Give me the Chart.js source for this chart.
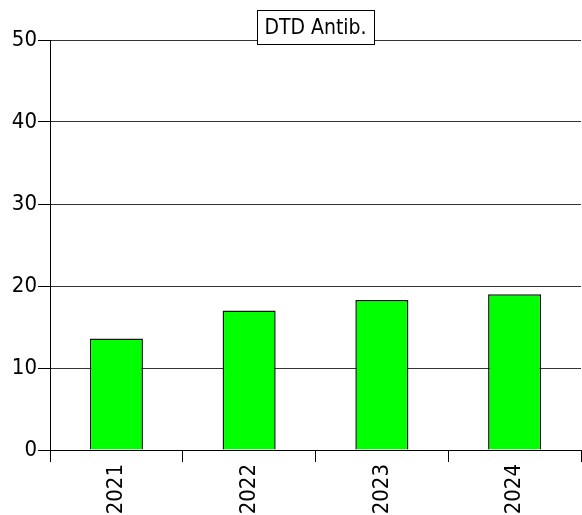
<!DOCTYPE html>
<html>
<head>
<meta charset="utf-8">
<script src="https://cdn.jsdelivr.net/npm/chart.js@4/dist/chart.umd.min.js"></script>
<style>
  html, body { margin: 0; padding: 0; background: #fff; }
  #wrap { width: 582px; height: 515px; }
</style>
</head>
<body>
<div id="wrap"><canvas id="c" width="582" height="515"></canvas></div>
<script>
// datos
const years = ['2021', '2022', '2023', '2024'];
const dtdValues = [13.6, 17.0, 18.3, 19.0];
const yTicks = [0, 10, 20, 30, 40, 50];
const chartTitle = 'DTD Antib.';

const FONT = "'DejaVu Sans Condensed', 'DejaVu Sans', sans-serif";

// titulo en caja blanca encima de la linea superior
const boxTitle = {
  id: 'boxTitle',
  afterDraw(chart) {
    const ctx = chart.ctx;
    const area = chart.chartArea;
    const cx = (area.left + area.right) / 2;
    const w = 117, h = 34;
    const x = Math.round(cx - w / 2) + 0.5;
    const y = 10.5;
    ctx.save();
    ctx.fillStyle = '#fff';
    ctx.fillRect(x, y, w, h);
    ctx.strokeStyle = '#000';
    ctx.lineWidth = 1;
    ctx.strokeRect(x, y, w, h);
    ctx.fillStyle = '#000';
    ctx.font = '21px ' + FONT;
    ctx.textAlign = 'center';
    ctx.textBaseline = 'middle';
    ctx.fillText(chartTitle, cx, y + h / 2 + 1);
    ctx.restore();
  }
};

const chart = new Chart(document.getElementById('c'), {
  type: 'bar',
  data: {
    labels: years,
    datasets: [{
      label: chartTitle,
      data: dtdValues,
      backgroundColor: '#00ff00',
      borderColor: '#111',
      borderWidth: 1.5,
      barPercentage: 0.4,
      categoryPercentage: 1
    }]
  },
  options: {
    responsive: false,
    animation: false,
    layout: { padding: { top: 40, right: 1, left: 0, bottom: 0 } },
    plugins: {
      legend: { display: false },
      tooltip: { enabled: false }
    },
    scales: {
      x: {
        afterFit(scale) { scale.height = 65; },
        grid: {
          drawOnChartArea: false,
          drawTicks: true,
          tickLength: 12,
          tickColor: '#000',
          offset: true
        },
        border: { color: '#000', width: 1 },
        ticks: {
          color: '#000',
          font: { family: FONT, size: 22 },
          minRotation: 90,
          maxRotation: 90,
          padding: 2
        }
      },
      y: {
        min: 0,
        max: 50,
        afterFit(scale) { scale.width = 50; },
        afterBuildTicks(scale) { scale.ticks = yTicks.map(v => ({ value: v })); },
        grid: {
          color: '#333',
          tickColor: '#000',
          tickLength: 12,
          drawTicks: true
        },
        border: { color: '#000', width: 1 },
        ticks: {
          color: '#000',
          font: { family: FONT, size: 22 },
          padding: 1
        }
      }
    }
  },
  plugins: [boxTitle]
});
</script>
</body>
</html>
